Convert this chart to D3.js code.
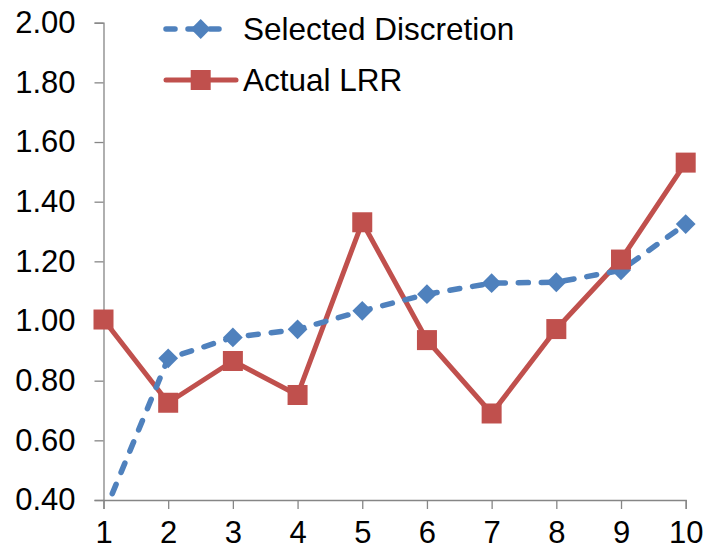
<!DOCTYPE html>
<html><head><meta charset="utf-8">
<script src="https://cdn.jsdelivr.net/npm/d3@7/dist/d3.min.js"></script>
<style>body{margin:0;background:#fff}svg{display:block}</style>
</head><body>
<script>
const categories = [1,2,3,4,5,6,7,8,9,10];
const selectedDiscretion = [0.35,0.875,0.945,0.972,1.034,1.09,1.127,1.13,1.17,1.325];
const actualLRR = [1.005,0.726,0.866,0.752,1.331,0.936,0.69,0.973,1.206,1.531];
const yTicks = [0.4,0.6,0.8,1.0,1.2,1.4,1.6,1.8,2.0];
const seriesNames = ["Selected Discretion","Actual LRR"];

const W=703,H=553;
const svg=d3.select("body").append("svg").attr("width",W).attr("height",H);
const x=d3.scaleLinear().domain([1,10]).range([103.5,685.7]);
const y=d3.scaleLinear().domain([0.4,2.0]).range([500,22.7]);
const font="Liberation Sans, Arial, sans-serif";
const fs=31;
const axisCol="#868686";
const blue="#4F81BD", red="#C0504D";

// y axis
const ya=svg.append("g").attr("transform",`translate(${x(1)},0)`)
  .call(d3.axisLeft(y).tickValues(yTicks).tickSize(9).tickPadding(19).tickFormat(d3.format(".2f")));
ya.select(".domain").attr("stroke",axisCol).attr("stroke-width",1.3);
ya.selectAll(".tick line").attr("stroke",axisCol).attr("stroke-width",1.3);
ya.selectAll("text").attr("font-family",font).attr("font-size",fs).attr("fill","#000");

// x axis
const xa=svg.append("g").attr("transform",`translate(0,${y(0.4)})`)
  .call(d3.axisBottom(x).tickValues(categories).tickSize(9).tickPadding(12).tickFormat(d3.format("d")));
xa.select(".domain").attr("stroke",axisCol).attr("stroke-width",1.3);
xa.selectAll(".tick line").attr("stroke",axisCol).attr("stroke-width",1.3);
xa.selectAll("text").attr("font-family",font).attr("font-size",fs).attr("fill","#000");

svg.append("clipPath").attr("id","plot").append("rect")
  .attr("x",0).attr("y",y(2.0)-20).attr("width",W).attr("height",y(0.4)-y(2.0)+20);

const line=d3.line().x((d,i)=>x(categories[i])).y(d=>y(d));
const diamond=d3.symbol().type(d3.symbolDiamond2).size(250);

// red line
svg.append("path").datum(actualLRR).attr("d",line).attr("fill","none")
  .attr("stroke",red).attr("stroke-width",5).attr("stroke-linejoin","round");

// blue series
const gb=svg.append("g").attr("clip-path","url(#plot)");
gb.append("path").datum(selectedDiscretion).attr("d",line).attr("fill","none")
  .attr("stroke",blue).attr("stroke-width",5.5).attr("stroke-linecap","round")
  .attr("stroke-dasharray","10,13");
gb.selectAll("path.m").data(selectedDiscretion.map((v,i)=>({v,c:categories[i]})).filter(d=>d.v>=0.4))
  .enter().append("path").attr("class","m").attr("d",diamond)
  .attr("transform",d=>`translate(${x(d.c)},${y(d.v)})`).attr("fill",blue);

// red markers
svg.append("g").selectAll("rect").data(actualLRR.map((v,i)=>({v,c:categories[i]})))
  .enter().append("rect").attr("x",d=>x(d.c)-10).attr("y",d=>y(d.v)-10)
  .attr("width",20).attr("height",20).attr("fill",red);

// legend
const lg=svg.append("g");
const l1=29,l2=80;
lg.append("line").attr("x1",166).attr("x2",226).attr("y1",l1).attr("y2",l1)
  .attr("stroke",blue).attr("stroke-width",5.5).attr("stroke-linecap","round").attr("stroke-dasharray","9,13");
lg.append("path").attr("d",diamond).attr("transform",`translate(200.7,${l1})`).attr("fill",blue);
lg.append("text").attr("x",243).attr("y",l1).attr("dy","0.35em").attr("font-family",font)
  .attr("font-size",31.5).text(seriesNames[0]);
lg.append("line").attr("x1",166).attr("x2",236).attr("y1",l2).attr("y2",l2)
  .attr("stroke",red).attr("stroke-width",5).attr("stroke-linecap","round");
lg.append("rect").attr("x",190.7).attr("y",l2-10).attr("width",20).attr("height",20).attr("fill",red);
lg.append("text").attr("x",243).attr("y",l2).attr("dy","0.35em").attr("font-family",font)
  .attr("font-size",31.5).text(seriesNames[1]);
</script>
</body></html>
